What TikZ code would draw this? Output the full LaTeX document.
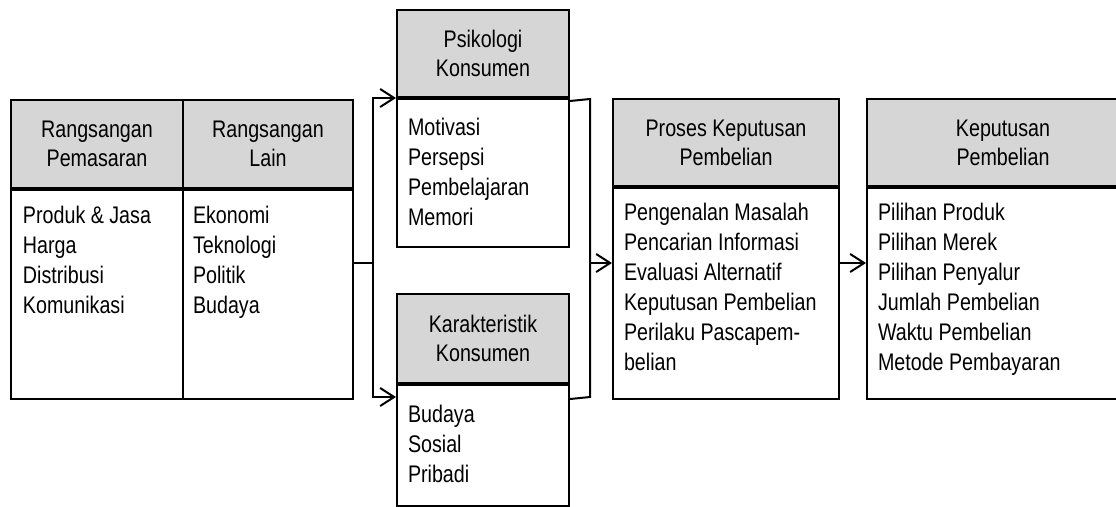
\documentclass[tikz,border=0pt]{standalone}
\usepackage{fontspec}
\setmainfont{Liberation Sans}[FakeStretch=0.82]
\usetikzlibrary{arrows.meta,calc}
\definecolor{hdrgray}{RGB}{214,214,214}
\begin{document}
\begin{tikzpicture}[x=1pt,y=-1pt,line width=2pt,
  hdr/.style={draw, fill=hdrgray, anchor=north west, inner sep=0pt, align=center, font=\fontsize{24}{29}\selectfont},
  bodybox/.style={draw, fill=white, anchor=north west, inner sep=0pt},
  txt/.style={anchor=north west, inner sep=0pt, align=left, font=\fontsize{24}{30}\selectfont},
  arr/.style={-{Straight Barb[length=14pt,width=18pt]}}]
\useasboundingbox (0,0) rectangle (1116,506);
\fill[white] (0,0) rectangle (1116,506);
\clip (0,0) rectangle (1116,506);
% Rangsangan
\node[hdr, minimum width=172, minimum height=88] (hRP) at (10,99) {Rangsangan\\Pemasaran};
\node[hdr, minimum width=170, minimum height=88] (hRL) at (182,99) {Rangsangan\\Lain};
\node[bodybox, minimum width=172, minimum height=209] (bRP) at (hRP.south west) {};
\node[bodybox, minimum width=170, minimum height=209] (bRL) at (hRL.south west) {};
\node[txt] (tRP) at ($(bRP.north west)+(12,16)$) {Produk \& Jasa\\Harga\\Distribusi\\Komunikasi};
\node[txt] (tRL) at ($(bRL.north west)+(10,16)$) {Ekonomi\\Teknologi\\Politik\\Budaya};
% Psikologi
\node[hdr, minimum width=172, minimum height=87] (hPK) at (396,9) {Psikologi\\Konsumen};
\node[bodybox, minimum width=172, minimum height=148] (bPK) at (hPK.south west) {};
\node[txt] (tPK) at ($(bPK.north west)+(11,19)$) {Motivasi\\Persepsi\\Pembelajaran\\Memori};
% Karakteristik
\node[hdr, minimum width=172, minimum height=89] (hKK) at (396,293) {Karakteristik\\Konsumen};
\node[bodybox, minimum width=172, minimum height=121] (bKK) at (hKK.south west) {};
\node[txt] (tKK) at ($(bKK.north west)+(11,20)$) {Budaya\\Sosial\\Pribadi};
% Proses
\node[hdr, minimum width=226, minimum height=87] (hPr) at (612,98) {Proses Keputusan\\Pembelian};
\node[bodybox, minimum width=226, minimum height=211] (bPr) at (hPr.south west) {};
\node[txt] (tPr) at ($(bPr.north west)+(11,15)$) {Pengenalan Masalah\\Pencarian Informasi\\Evaluasi Alternatif\\Keputusan Pembelian\\Perilaku Pascapem-\\belian};
% Keputusan
\node[hdr, minimum width=272, minimum height=87] (hKp) at (866,98) {Keputusan\\Pembelian};
\node[bodybox, minimum width=272, minimum height=211] (bKp) at (hKp.south west) {};
\node[txt] (tKp) at ($(bKp.north west)+(11,15)$) {Pilihan Produk\\Pilihan Merek\\Pilihan Penyalur\\Jumlah Pembelian\\Waktu Pembelian\\Metode Pembayaran};
% connectors
\coordinate (J1) at (373,263);
\draw (bRL.east |- J1) -- (J1);
\draw[arr] (J1) |- (hPK.south west);
\draw[arr] (J1) |- ($(bKK.north west)+(0,13)$);
\coordinate (J2top) at (590,99);
\coordinate (J2bot) at (590,397);
\coordinate (J2) at (590,263);
\draw ($(bPK.north east)+(0,3)$) -- (J2top) -- (J2bot) -- ($(bKK.north east)+(0,15)$);
\draw[arr] (J2) -- (bPr.west |- J2);
\draw[arr] (bPr.east |- J2) -- (bKp.west |- J2);
\end{tikzpicture}
\end{document}
